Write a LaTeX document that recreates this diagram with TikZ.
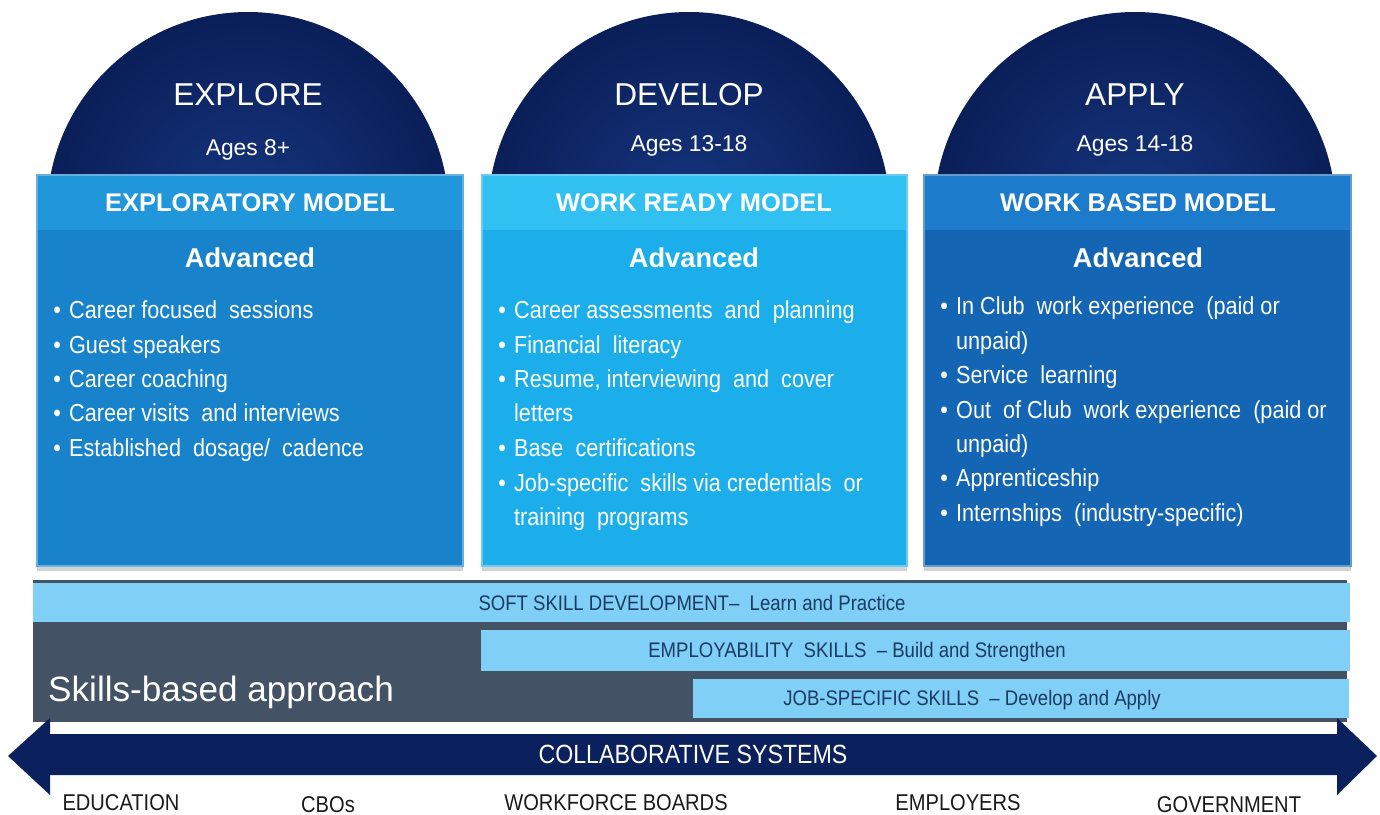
\documentclass[tikz,border=0pt]{standalone}
\usepackage{fontspec}
\setmainfont{Liberation Sans}
\newfontfamily\narrowfont[FakeStretch=0.88]{Liberation Sans}
\usetikzlibrary{positioning,shadows}

\definecolor{domeblue}{HTML}{0A1F58}
\definecolor{domelight}{HTML}{16357F}
\definecolor{boxa}{HTML}{1882CB}
\definecolor{boxahead}{HTML}{2197DB}
\definecolor{boxb}{HTML}{1CAEEA}
\definecolor{boxbhead}{HTML}{30C0F2}
\definecolor{boxc}{HTML}{1465B4}
\definecolor{boxchead}{HTML}{1C7BCB}
\definecolor{barblue}{HTML}{80CFF6}
\definecolor{slate}{HTML}{445265}
\definecolor{arrowblue}{HTML}{0B215E}
\definecolor{bartext}{HTML}{1B3A64}
\definecolor{labeltext}{HTML}{1A1A1A}
\newcommand{\bul}{\makebox[9pt][l]{\textbullet}}

\begin{document}
\begin{tikzpicture}[x=0.02cm,y=-0.02cm]

\tikzset{dome/.style = {inner color=domelight, outer color=domeblue}}
\tikzset{modelbox/.style = {fill=#1, draw=white!35!#1, line width=1.2pt,
  drop shadow={opacity=0.35, shadow xshift=0pt, shadow yshift=-3pt}}}
\tikzset{stage/.style = {text=white, font=\fontsize{18}{22}\selectfont}}
\tikzset{ages/.style = {text=white, font=\fontsize{13}{16}\selectfont}}
\tikzset{model/.style = {text=white, font=\bfseries\fontsize{14.5}{17}\selectfont}}
\tikzset{level/.style = {text=white, font=\bfseries\fontsize{15.5}{18}\selectfont}}
\tikzset{item/.style = {text=white, anchor=base west, inner sep=0pt,
  font=\narrowfont\fontsize{14}{17}\selectfont}}
\tikzset{bar/.style = {fill=barblue}}
\tikzset{bartxt/.style = {text=bartext, font=\narrowfont\fontsize{12}{14}\selectfont}}
\tikzset{partner/.style = {text=labeltext, font=\narrowfont\fontsize{13}{15}\selectfont}}

\useasboundingbox (0,0) rectangle (1380,815);

% domes
\begin{scope}
  \clip (0,0) rectangle (1380,178);
  \shade[dome] (248,213) circle (201);
  \shade[dome] (689,213) circle (201);
  \shade[dome] (1135,213) circle (201);
\end{scope}

% model boxes
\path[modelbox=boxa] (37,175) rectangle (463,566);
\fill[boxahead] (38,176) rectangle (462,230);
\path[modelbox=boxb] (482,175) rectangle (907,566);
\fill[boxbhead] (483,176) rectangle (906,230);
\path[modelbox=boxc] (924,175) rectangle (1351,566);
\fill[boxchead] (925,176) rectangle (1350,230);

% explore
\node[stage] (explore) at (248,95) {EXPLORE};
\node[ages] (agesa) at (248,150) {Ages 8+};
\node[model] (modela) at (250,203) {EXPLORATORY MODEL};
\node[level] (adva) at (250,258) {Advanced};
\node[item] (a1) at (53,318) {\bul Career focused\ \ sessions};
\node[item] (a2) at (53,353) {\bul Guest speakers};
\node[item] (a3) at (53,387) {\bul Career coaching};
\node[item] (a4) at (53,421) {\bul Career visits\ \ and interviews};
\node[item] (a5) at (53,456) {\bul Established\ \ dosage/\ \ cadence};

% develop
\node[stage] (develop) at (689,95) {DEVELOP};
\node[ages] (agesb) at (689,146) {Ages 13-18};
\node[model] (modelb) at (694,203) {WORK READY MODEL};
\node[level] (advb) at (694,258) {Advanced};
\node[item] (b1) at (498,318) {\bul Career assessments\ \ and\ \ planning};
\node[item] (b2) at (498,353) {\bul Financial\ \ literacy};
\node[item] (b3) at (498,387) {\bul Resume,\ interviewing\ \ and\ \ cover};
\node[item] (b3x) at (498,421) {\hphantom{\bul}letters};
\node[item] (b4) at (498,456) {\bul Base\ \ certifications};
\node[item] (b5) at (498,491) {\bul Job-specific\ \ skills\ via\ credentials\ \ or};
\node[item] (b5x) at (498,525) {\hphantom{\bul}training\ \ programs};

% apply
\node[stage] (apply) at (1135,95) {APPLY};
\node[ages] (agesc) at (1135,146) {Ages 14-18};
\node[model] (modelc) at (1138,203) {WORK BASED MODEL};
\node[level] (advc) at (1138,258) {Advanced};
\node[item] (c1) at (940,314) {\bul In\ Club\ \ work\ experience\ \ (paid\ or};
\node[item] (c1x) at (940,349) {\hphantom{\bul}unpaid)};
\node[item] (c2) at (940,383) {\bul Service\ \ learning};
\node[item] (c3) at (940,418) {\bul Out\ \ of\ Club\ \ work\ experience\ \ (paid\ or};
\node[item] (c3x) at (940,452) {\hphantom{\bul}unpaid)};
\node[item] (c4) at (940,486) {\bul Apprenticeship};
\node[item] (c5) at (940,521) {\bul Internships\ \ (industry-specific)};

% skills bars
\fill[slate] (33,580) rectangle (1347,722);
\fill[bar] (33,583) rectangle (1350,622);
\fill[bar] (481,630) rectangle (1350,671);
\fill[bar] (693,679) rectangle (1349,718);
\node[bartxt] (soft) at (692,603) {SOFT SKILL DEVELOPMENT–\ \ Learn and Practice};
\node[bartxt] (employ) at (857,652) {EMPLOYABILITY\ \ SKILLS\ \ – Build and Strengthen};
\node[bartxt] (jobspec) at (972,700) {JOB-SPECIFIC SKILLS\ \ – Develop and Apply};
\node[text=white, anchor=west, font=\fontsize{20}{24}\selectfont] (approach) at (42,692) {Skills-based approach};

% collaborative systems
\fill[arrowblue] (8,756) -- (50,718) -- (50,734) -- (1337,734) -- (1337,718)
  -- (1377,756) -- (1337,795) -- (1337,775) -- (50,775) -- (50,795) -- cycle;
\node[text=white, font=\narrowfont\fontsize{15}{18}\selectfont] (collab) at (693,754) {COLLABORATIVE SYSTEMS};
\node[partner] (education) at (121,803) {EDUCATION};
\node[partner] (cbos) at (328,805) {CBOs};
\node[partner] (boards) at (616,803) {WORKFORCE BOARDS};
\node[partner] (employers) at (958,803) {EMPLOYERS};
\node[partner] (government) at (1229,805) {GOVERNMENT};
\end{tikzpicture}
\end{document}
